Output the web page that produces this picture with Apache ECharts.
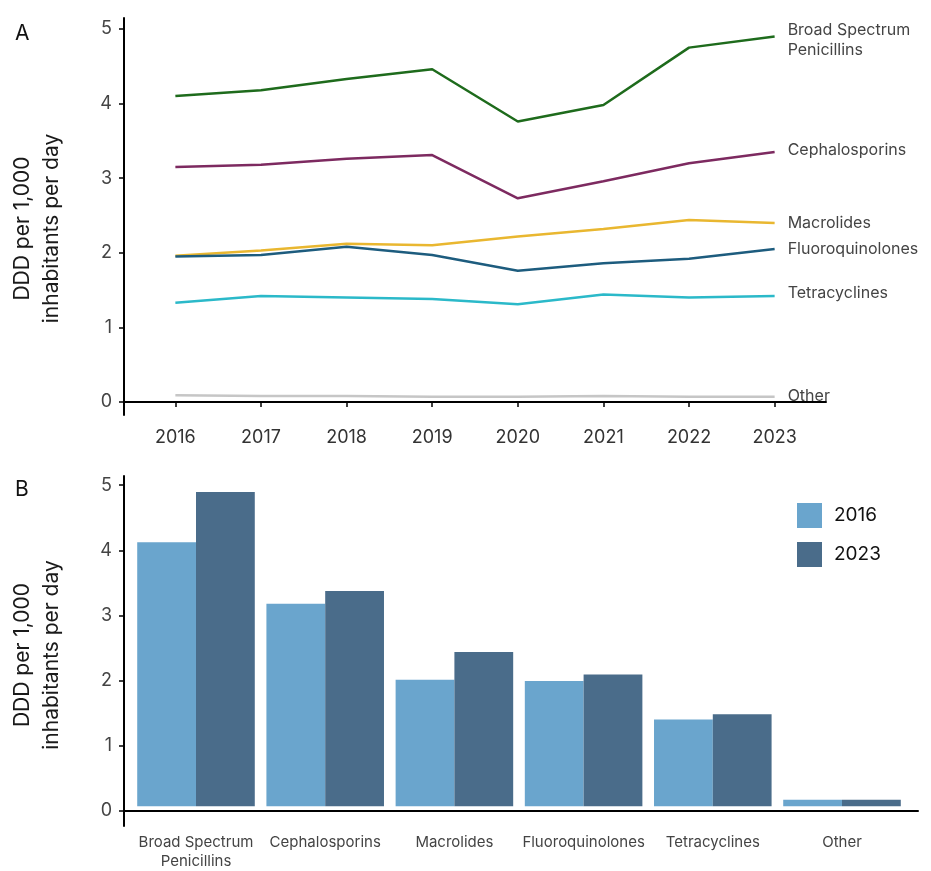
<!DOCTYPE html>
<html>
<head>
<meta charset="utf-8">
<title>DDD per 1,000 inhabitants per day</title>
<script src="https://cdn.jsdelivr.net/npm/echarts@6/dist/echarts.min.js"></script>
<style>
  html, body { margin: 0; padding: 0; background: #fff; }
  #chart { width: 931px; height: 871px; }
</style>
</head>
<body>
<div id="chart"></div>
<script>
  // panel A: yearly use by class
  const years = [2016, 2017, 2018, 2019, 2020, 2021, 2022, 2023];
  const broadSpectrum = [4.10, 4.18, 4.33, 4.46, 3.76, 3.98, 4.75, 4.90];
  const cephalosporins = [3.15, 3.18, 3.26, 3.31, 2.73, 2.96, 3.20, 3.35];
  const macrolides = [1.96, 2.03, 2.12, 2.10, 2.22, 2.32, 2.44, 2.40];
  const fluoroquinolones = [1.95, 1.97, 2.08, 1.97, 1.76, 1.86, 1.92, 2.05];
  const tetracyclines = [1.33, 1.42, 1.40, 1.38, 1.31, 1.44, 1.40, 1.42];
  const other = [0.09, 0.08, 0.08, 0.07, 0.07, 0.08, 0.07, 0.07];

  // panel B: 2016 vs 2023
  const drugClasses = ['Broad Spectrum\nPenicillins', 'Cephalosporins', 'Macrolides', 'Fluoroquinolones', 'Tetracyclines', 'Other'];
  const ddd2016 = [4.11, 3.15, 1.97, 1.95, 1.35, 0.10];
  const ddd2023 = [4.89, 3.35, 2.40, 2.05, 1.43, 0.10];
  const yTicks = [0, 1, 2, 3, 4, 5];

  const font = 'Inter, "Noto Sans", sans-serif';
  const axisName = 'DDD per 1,000\ninhabitants per day';

  function lineSeries(name, values, color, label, offsetY) {
    return {
      name: name,
      type: 'line',
      xAxisIndex: 0,
      yAxisIndex: 0,
      data: years.map((y, i) => [y, values[i]]),
      symbol: 'none',
      lineStyle: { color: color, width: 2.5 },
      endLabel: {
        show: true,
        formatter: label,
        distance: 13,
        offset: [0, offsetY || 0],
        color: '#444',
        fontSize: 16,
        fontFamily: font,
        lineHeight: 20
      },
      silent: true
    };
  }

  function yAxisName(shiftDown) {
    return {
      name: axisName,
      nameLocation: 'middle',
      nameRotate: 90,
      nameGap: 58,
      nameTextStyle: {
        fontSize: 21,
        lineHeight: 29,
        color: '#1a1a1a',
        fontFamily: font,
        padding: [0, shiftDown * 2, 0, 0]
      }
    };
  }

  let chartDom = document.getElementById('chart');
  let myChart = echarts.init(chartDom);
  let option = {
    animation: false,
    title: [
      { text: 'A', left: 10, top: 18, textStyle: { fontSize: 21, fontWeight: 'normal', color: '#111', fontFamily: font } },
      { text: 'B', left: 10, top: 474, textStyle: { fontSize: 21, fontWeight: 'normal', color: '#111', fontFamily: font } }
    ],
    legend: {
      data: ['2016', '2023'],
      orient: 'vertical',
      left: 797,
      top: 503,
      padding: 0,
      itemWidth: 25,
      itemHeight: 25,
      itemGap: 14,
      icon: 'rect',
      textStyle: { fontSize: 19, color: '#111', fontFamily: font, padding: [0, 0, 0, 7] }
    },
    grid: [
      { left: 122, right: 105, top: 18, bottom: 456 },
      { left: 118, right: 13, top: 476, bottom: 45 },
      { left: 131.4, right: 24.4, top: 476, bottom: 45 }
    ],
    xAxis: [
      {
        type: 'value',
        gridIndex: 0,
        min: 2015.4,
        max: 2023.6,
        splitLine: { show: false },
        axisLine: { lineStyle: { color: '#000', width: 2 } },
        axisTick: { customValues: years, length: 5, lineStyle: { color: '#000', width: 1.5 } },
        axisLabel: {
          customValues: years,
          formatter: v => String(v),
          margin: 14,
          fontSize: 18,
          color: '#333',
          fontFamily: font
        }
      },
      {
        type: 'value',
        gridIndex: 1,
        min: 0,
        max: 1,
        splitLine: { show: false },
        axisLine: { lineStyle: { color: '#000', width: 2 } },
        axisTick: { show: false },
        axisLabel: { show: false }
      },
      {
        type: 'category',
        gridIndex: 2,
        data: drugClasses,
        axisLine: { show: false },
        axisTick: { alignWithLabel: true, length: 5, lineStyle: { color: '#333', width: 1.5 } },
        axisLabel: {
          margin: 12,
          fontSize: 15,
          lineHeight: 19,
          color: '#444',
          fontFamily: font,
          interval: 0
        }
      }
    ],
    yAxis: [
      Object.assign({
        type: 'value',
        gridIndex: 0,
        min: -0.174,
        max: 5.147,
        splitLine: { show: false },
        axisLine: { lineStyle: { color: '#000', width: 2 } },
        axisTick: { customValues: yTicks, length: 5, lineStyle: { color: '#000', width: 1.5 } },
        axisLabel: { customValues: yTicks, margin: 12, fontSize: 18, color: '#444', fontFamily: font }
      }, yAxisName(12)),
      Object.assign({
        type: 'value',
        gridIndex: 1,
        min: -0.23,
        max: 5.14,
        splitLine: { show: false },
        axisLine: { lineStyle: { color: '#000', width: 2 } },
        axisTick: { customValues: yTicks, length: 5, lineStyle: { color: '#000', width: 1.5 } },
        axisLabel: { customValues: yTicks, margin: 12, fontSize: 18, color: '#444', fontFamily: font }
      }, yAxisName(4)),
      {
        type: 'value',
        gridIndex: 2,
        min: -0.23,
        max: 5.14,
        show: false
      }
    ],
    series: [
      lineSeries('Broad Spectrum Penicillins', broadSpectrum, '#1e6b1c', 'Broad Spectrum\nPenicillins', 4),
      lineSeries('Cephalosporins', cephalosporins, '#7d2a60', 'Cephalosporins', -2),
      lineSeries('Macrolides', macrolides, '#e9b730', 'Macrolides', 0),
      lineSeries('Fluoroquinolones', fluoroquinolones, '#1d5c7e', 'Fluoroquinolones', 0),
      lineSeries('Tetracyclines', tetracyclines, '#2bb9c9', 'Tetracyclines', -3),
      lineSeries('Other', other, '#c6c6c6', 'Other', -1),
      {
        name: '2016',
        type: 'bar',
        xAxisIndex: 2,
        yAxisIndex: 2,
        data: ddd2016,
        barGap: '0%',
        barCategoryGap: '9%',
        itemStyle: { color: '#6aa5cd' },
        silent: true
      },
      {
        name: '2023',
        type: 'bar',
        xAxisIndex: 2,
        yAxisIndex: 2,
        data: ddd2023,
        barGap: '0%',
        barCategoryGap: '9%',
        itemStyle: { color: '#4a6c8a' },
        silent: true
      }
    ]
  };
  option && myChart.setOption(option);
</script>
</body>
</html>
